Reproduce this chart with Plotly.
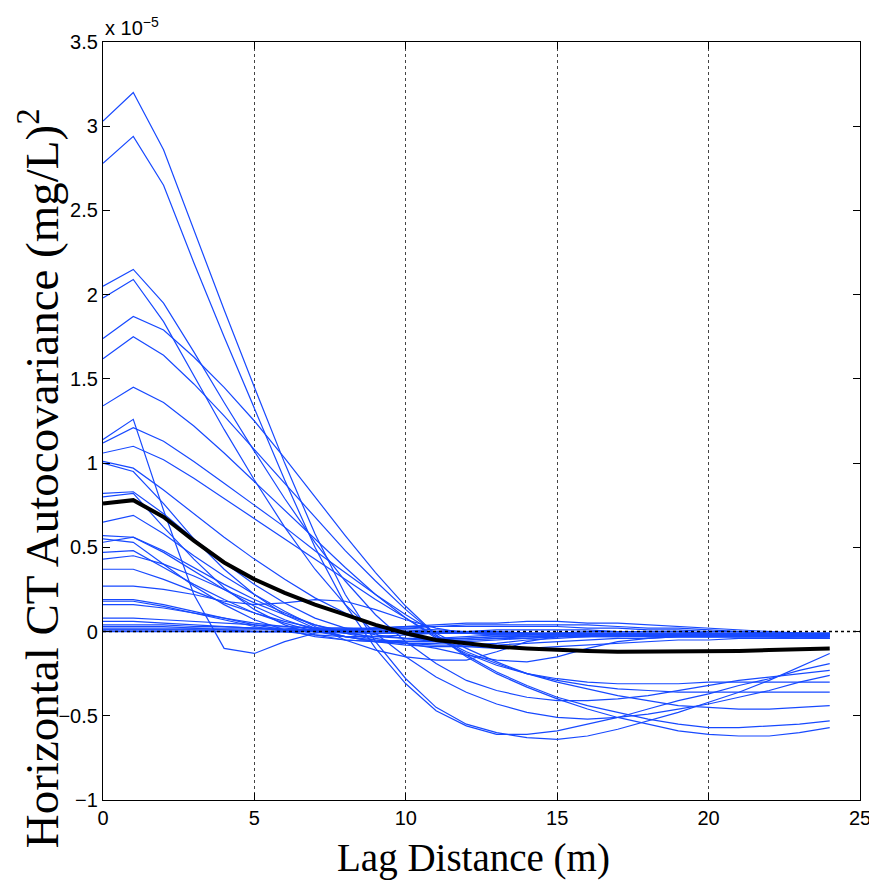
import plotly.graph_objects as go

# Lag distance (m)
lags = list(range(25))

# Autocovariance curves, values in units of 1e-5 (mg/L)^2
curve_a = [3.03,3.20,2.86,2.38,1.91,1.45,1.00,0.58,0.22,-0.06,-0.28,-0.45,-0.55,-0.60,-0.63,-0.64,-0.62,-0.58,-0.53,-0.48,-0.42,-0.36,-0.29,-0.21,-0.13]
curve_b = [2.78,2.94,2.65,2.19,1.75,1.32,0.90,0.50,0.16,-0.10,-0.31,-0.47,-0.56,-0.61,-0.61,-0.59,-0.55,-0.51,-0.46,-0.41,-0.37,-0.32,-0.28,-0.23,-0.19]
curve_c = [2.05,2.15,1.95,1.66,1.36,1.07,0.79,0.53,0.30,0.10,-0.06,-0.19,-0.29,-0.35,-0.39,-0.41,-0.41,-0.40,-0.38,-0.35,-0.32,-0.29,-0.27,-0.25,-0.23]
curve_d = [1.98,2.09,1.84,1.52,1.20,0.90,0.62,0.37,0.16,-0.01,-0.15,-0.27,-0.36,-0.43,-0.48,-0.51,-0.52,-0.51,-0.49,-0.46,-0.43,-0.39,-0.35,-0.30,-0.26]
curve_e = [1.74,1.87,1.79,1.63,1.45,1.25,1.03,0.80,0.57,0.35,0.15,-0.02,-0.15,-0.25,-0.33,-0.40,-0.46,-0.51,-0.55,-0.59,-0.61,-0.62,-0.62,-0.60,-0.57]
curve_f = [1.62,1.75,1.64,1.47,1.28,1.08,0.88,0.68,0.48,0.30,0.13,-0.02,-0.14,-0.24,-0.32,-0.39,-0.44,-0.48,-0.52,-0.55,-0.57,-0.57,-0.56,-0.55,-0.53]
curve_g = [1.34,1.45,1.36,1.22,1.06,0.89,0.72,0.55,0.38,0.22,0.08,-0.04,-0.13,-0.20,-0.25,-0.28,-0.30,-0.31,-0.31,-0.31,-0.30,-0.30,-0.30,-0.30,-0.30]
curve_h1 = [1.12,1.21,1.13,1.01,0.88,0.75,0.62,0.48,0.35,0.22,0.10,-0.01,-0.10,-0.18,-0.25,-0.30,-0.34,-0.38,-0.41,-0.44,-0.45,-0.46,-0.46,-0.45,-0.44]
curve_h2 = [1.06,1.10,1.02,0.91,0.79,0.67,0.55,0.43,0.31,0.19,0.08,-0.03,-0.12,-0.19,-0.25,-0.29,-0.32,-0.34,-0.35,-0.36,-0.36,-0.36,-0.36,-0.36,-0.36]
curve_h3 = [1.14,1.26,0.72,0.22,-0.10,-0.13,-0.06,-0.01,0.01,0.02,0.02,0.01,0.00,-0.01,-0.01,-0.02,-0.02,-0.02,-0.02,-0.02,-0.02,-0.02,-0.02,-0.02,-0.02]
curve_h4 = [1.01,0.97,0.84,0.70,0.56,0.43,0.31,0.20,0.11,0.04,-0.02,-0.06,-0.09,-0.10,-0.10,-0.09,-0.08,-0.07,-0.06,-0.05,-0.05,-0.04,-0.04,-0.04,-0.04]
curve_h5 = [1.00,0.95,0.76,0.55,0.37,0.22,0.10,0.02,-0.03,-0.06,-0.07,-0.07,-0.06,-0.05,-0.04,-0.03,-0.03,-0.03,-0.03,-0.03,-0.03,-0.03,-0.03,-0.03,-0.03]
curve_i1 = [0.82,0.83,0.70,0.55,0.41,0.28,0.17,0.08,0.02,-0.02,-0.04,-0.05,-0.05,-0.04,-0.04,-0.03,-0.03,-0.03,-0.02,-0.02,-0.02,-0.02,-0.02,-0.02,-0.02]
curve_i2 = [0.80,0.82,0.62,0.43,0.26,0.13,0.04,-0.02,-0.05,-0.06,-0.05,-0.04,-0.03,-0.02,-0.02,-0.01,-0.01,-0.01,-0.01,-0.01,-0.01,-0.01,-0.01,-0.01,-0.01]
curve_i3 = [0.65,0.69,0.58,0.45,0.33,0.22,0.12,0.03,-0.05,-0.11,-0.15,-0.17,-0.17,-0.12,-0.06,-0.03,-0.02,-0.02,-0.02,-0.02,-0.02,-0.02,-0.02,-0.02,-0.02]
curve_i4 = [0.57,0.56,0.47,0.36,0.25,0.15,0.07,0.01,-0.03,-0.06,-0.08,-0.09,-0.09,-0.08,-0.07,-0.06,-0.05,-0.04,-0.04,-0.03,-0.03,-0.03,-0.03,-0.03,-0.03]
curve_i5 = [0.55,0.53,0.40,0.27,0.16,0.07,0.01,-0.03,-0.05,-0.06,-0.06,-0.05,-0.04,-0.03,-0.02,-0.01,0.00,0.00,0.00,0.00,-0.01,-0.01,-0.01,-0.01,-0.01]
curve_i6 = [0.53,0.56,0.48,0.38,0.28,0.19,0.11,0.04,-0.01,-0.05,-0.07,-0.08,-0.08,-0.07,-0.05,-0.04,-0.03,-0.02,-0.02,-0.02,-0.02,-0.02,-0.02,-0.02,-0.02]
curve_i7 = [0.47,0.48,0.38,0.28,0.19,0.11,0.05,0.00,-0.03,-0.05,-0.06,-0.06,-0.05,-0.04,-0.03,-0.03,-0.02,-0.02,-0.02,-0.02,-0.02,-0.02,-0.02,-0.02,-0.02]
curve_i8 = [0.43,0.45,0.40,0.33,0.25,0.17,0.10,0.04,0.00,-0.04,-0.07,-0.10,-0.14,-0.17,-0.18,-0.15,-0.10,-0.06,-0.04,-0.03,-0.03,-0.03,-0.03,-0.03,-0.03]
curve_j1 = [0.37,0.37,0.31,0.24,0.17,0.11,0.06,0.02,-0.01,-0.03,-0.04,-0.04,-0.04,-0.03,-0.03,-0.02,-0.02,-0.02,-0.02,-0.02,-0.02,-0.02,-0.02,-0.02,-0.02]
curve_j2 = [0.27,0.27,0.25,0.22,0.18,0.16,0.17,0.19,0.18,0.13,0.07,0.02,-0.01,-0.02,-0.02,-0.02,-0.01,-0.01,-0.01,-0.01,-0.01,-0.01,-0.01,-0.01,-0.01]
curve_j3 = [0.19,0.19,0.16,0.12,0.08,0.04,0.01,0.00,0.01,0.02,0.03,0.04,0.05,0.05,0.06,0.06,0.05,0.05,0.04,0.03,0.02,0.01,0.00,-0.01,-0.02]
curve_j4 = [0.18,0.18,0.15,0.11,0.07,0.03,0.00,-0.02,-0.03,-0.03,-0.02,-0.01,0.00,0.01,0.01,0.01,0.01,0.00,0.00,0.00,-0.01,-0.01,-0.01,-0.01,-0.01]
curve_j5 = [0.16,0.16,0.14,0.11,0.08,0.05,0.03,0.02,0.02,0.02,0.03,0.03,0.04,0.04,0.04,0.04,0.04,0.03,0.02,0.02,0.01,0.00,-0.01,-0.01,-0.02]
curve_k1 = [0.08,0.08,0.07,0.06,0.05,0.04,0.03,0.02,0.02,0.01,0.01,0.00,0.00,0.00,-0.01,-0.01,-0.01,-0.01,-0.01,-0.01,-0.01,-0.02,-0.02,-0.02,-0.02]
curve_k2 = [0.06,0.06,0.05,0.04,0.03,0.02,0.01,0.00,0.00,-0.01,-0.01,-0.01,-0.01,-0.01,-0.01,-0.01,-0.01,-0.02,-0.02,-0.02,-0.02,-0.02,-0.02,-0.03,-0.03]
curve_k3 = [0.04,0.04,0.04,0.03,0.03,0.02,0.02,0.01,0.01,0.01,0.00,0.00,0.00,0.00,-0.01,-0.01,-0.01,-0.01,-0.02,-0.02,-0.02,-0.02,-0.03,-0.03,-0.03]
curve_k4 = [0.03,0.03,0.03,0.02,0.02,0.02,0.01,0.01,0.01,0.00,0.00,0.00,0.00,-0.01,-0.01,-0.01,-0.02,-0.02,-0.02,-0.03,-0.03,-0.03,-0.03,-0.04,-0.04]
curve_k5 = [0.02,0.02,0.02,0.02,0.01,0.01,0.01,0.01,0.00,0.00,0.00,-0.01,-0.01,-0.01,-0.01,-0.02,-0.02,-0.02,-0.03,-0.03,-0.03,-0.03,-0.03,-0.03,-0.04]
curve_k6 = [0.01,0.01,0.01,0.01,0.01,0.00,0.00,0.00,0.00,0.00,-0.01,-0.01,-0.01,-0.01,-0.01,-0.01,-0.02,-0.02,-0.02,-0.02,-0.02,-0.02,-0.02,-0.02,-0.02]
curve_k7 = [0.00,0.00,0.00,0.00,0.00,0.00,0.00,0.00,-0.01,-0.01,-0.01,-0.01,-0.01,-0.02,-0.02,-0.02,-0.02,-0.02,-0.03,-0.03,-0.03,-0.03,-0.03,-0.03,-0.03]
curve_k8 = [0.01,0.01,0.01,0.01,0.00,0.00,0.00,0.01,0.01,0.02,0.02,0.03,0.03,0.03,0.03,0.03,0.02,0.02,0.01,0.01,0.00,0.00,-0.01,-0.01,-0.01]

curves = [curve_a, curve_b, curve_c, curve_d, curve_e, curve_f, curve_g,
          curve_h1, curve_h2, curve_h3, curve_h4, curve_h5,
          curve_i1, curve_i2, curve_i3, curve_i4, curve_i5, curve_i6, curve_i7, curve_i8,
          curve_j1, curve_j2, curve_j3, curve_j4, curve_j5,
          curve_k1, curve_k2, curve_k3, curve_k4, curve_k5, curve_k6, curve_k7, curve_k8]

# Mean autocovariance (thick black)
mean_curve = [0.76,0.78,0.68,0.54,0.41,0.31,0.23,0.16,0.10,0.04,-0.01,-0.05,-0.07,-0.09,-0.10,-0.11,-0.115,-0.12,-0.12,-0.12,-0.12,-0.115,-0.11,-0.105,-0.10]

x_ticks = [0, 5, 10, 15, 20, 25]
y_ticks = [-1, -0.5, 0, 0.5, 1, 1.5, 2, 2.5, 3, 3.5]
y_tick_text = ["\u22121", "\u22120.5", "0", "0.5", "1", "1.5", "2", "2.5", "3", "3.5"]

BLUE = "#1749ff"

fig = go.Figure()
for c in curves:
    fig.add_trace(go.Scatter(x=lags, y=c, mode="lines",
                             line=dict(color=BLUE, width=1.2),
                             showlegend=False, hoverinfo="skip"))

fig.add_hline(y=0, line=dict(color="black", width=1.5, dash="dot"), layer="above")

fig.add_trace(go.Scatter(x=lags, y=mean_curve, mode="lines",
                         line=dict(color="black", width=4),
                         showlegend=False, hoverinfo="skip"))

tick_font = dict(family="Liberation Sans, Arial, sans-serif", size=20, color="black")

fig.update_layout(
    width=877, height=884,
    margin=dict(l=95, r=25, t=34, b=92),
    paper_bgcolor="white", plot_bgcolor="white",
    xaxis=dict(range=[0, 25], tickvals=x_ticks, ticks="inside", ticklen=7,
               tickcolor="black", showline=True, linecolor="black", linewidth=1.2,
               mirror="ticks", showgrid=True, gridcolor="#444", gridwidth=1,
               griddash="dot", zeroline=False, tickfont=tick_font),
    yaxis=dict(range=[-1, 3.5], tickvals=y_ticks, ticktext=y_tick_text,
               ticks="inside", ticklen=7, tickcolor="black", showline=True,
               linecolor="black", linewidth=1.2, mirror="ticks", showgrid=False,
               zeroline=False, tickfont=tick_font),
    annotations=[
        dict(text="x 10<sup>\u22125</sup>", xref="paper", yref="paper",
             x=0.0, y=1.0, xanchor="left", yanchor="bottom", yshift=1,
             showarrow=False, font=tick_font),
        dict(text="Lag Distance (m)", xref="paper", yref="paper",
             x=0.49, y=-0.077, xanchor="center", yanchor="middle",
             showarrow=False,
             font=dict(family="Liberation Serif, Times New Roman, serif", size=39, color="black")),
        dict(text="Horizontal CT Autocovariance (mg/L)<sup>2</sup>", xref="paper", yref="paper",
             x=-0.084, y=0.425, xanchor="center", yanchor="middle", textangle=-90,
             showarrow=False,
             font=dict(family="Liberation Serif, Times New Roman, serif", size=47, color="black")),
    ],
)

fig.write_html("out.html")
